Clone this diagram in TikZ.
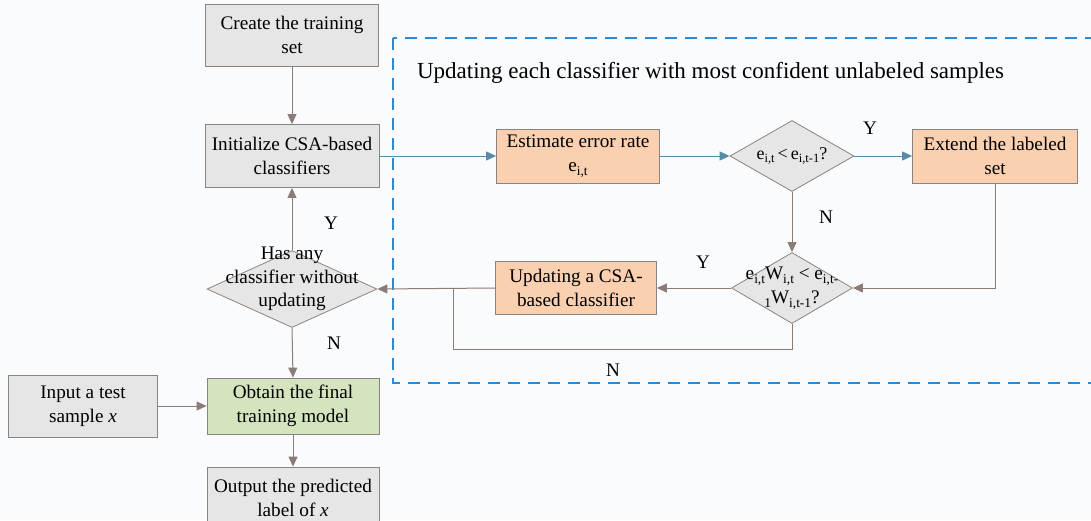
\documentclass[tikz,border=0pt]{standalone}
\usepackage{fontspec}
\setmainfont{Liberation Serif}
\usepackage{xcolor}
\usepackage{graphicx}
\usetikzlibrary{arrows.meta, positioning, shapes.geometric}

\definecolor{boxgray}{HTML}{E6E6E6}
\definecolor{boxorange}{HTML}{FAD0B0}
\definecolor{boxgreen}{HTML}{D3E4BE}
\definecolor{edgegray}{HTML}{8A8480}
\definecolor{linebrown}{HTML}{8C7C78}
\definecolor{lineblue}{HTML}{5A8AAA}
\definecolor{dashblue}{HTML}{2B8AD6}
\definecolor{bgwhite}{HTML}{FAFBFD}

% lowered index, as in e_{i,t}
\newcommand{\lowidx}[1]{\raisebox{-0.45ex}{\scalebox{0.7}{#1}}}

\begin{document}
\begin{tikzpicture}[x=0.5pt, y=-0.5pt,
  every node/.style={font=\fontsize{9.6}{11.8}\selectfont},
  graybox/.style={draw=edgegray, fill=boxgray, align=center, inner sep=1pt},
  orangebox/.style={draw=edgegray, fill=boxorange, align=center, inner sep=1pt},
  greenbox/.style={draw=edgegray, fill=boxgreen, align=center, inner sep=1pt},
  decision/.style={shape=diamond, draw=edgegray, fill=boxgray, inner sep=0pt},
  link/.style={draw=linebrown, line width=0.5pt, -{Triangle[length=5pt, width=4.5pt]}},
  bluelink/.style={link, draw=lineblue},
  plain/.style={draw=linebrown, line width=0.5pt},
  yesno/.style={font=\fontsize{9.6}{11}\selectfont}
]

% page frame
\useasboundingbox (0,0) rectangle (1091,520);
\fill[bgwhite] (0,0) rectangle (1091,520);

% dashed group around the update loop
\draw[dashblue, line width=0.7pt, dash pattern=on 6pt off 4pt] (393,38) rectangle (1110,383);
\node[anchor=west, font=\fontsize{11.5}{13}\selectfont] (title) at (410,73) {Updating each classifier with most confident unlabeled samples};

% left column
\node[graybox, minimum width=86.5pt, minimum height=31pt] (create) at (292,35) {Create the training\\set};
\node[graybox, minimum width=87pt, minimum height=31.5pt] (init) at (292,156) {Initialize CSA-based\\classifiers};
\node[decision, minimum width=85pt, minimum height=38.5pt] (hasany) at (292,289) {};
\node[align=center] (hasanytext) at ([yshift=5pt]hasany.center) {Has any\\classifier without\\updating};
\node[greenbox, minimum width=86pt, minimum height=28pt] (obtain) at (293,406) {Obtain the final\\training model};
\node[graybox, minimum width=74.5pt, minimum height=31pt] (input) at (83,406) {Input a test\\sample \textit{x}};
\node[graybox, minimum width=86pt, minimum height=31pt] (output) at (293,498) {Output the predicted\\label of \textit{x}};

% update loop
\node[orangebox, minimum width=81.5pt, minimum height=27pt] (estimate) at (578,156) {Estimate error rate\\e\lowidx{i,t}};
\node[decision, minimum width=62pt, minimum height=35.5pt] (dless) at (792,156) {};
\node[align=center, font=\fontsize{9}{11}\selectfont] (dlesstext) at (dless) {e\lowidx{i,t}\,<\,e\lowidx{i,t-1}?};
\node[orangebox, minimum width=82.5pt, minimum height=27pt] (extend) at (995,156) {Extend the labeled\\set};
\node[decision, minimum width=60.5pt, minimum height=35.5pt] (dweight) at (792,288) {};
\node[align=center] (dweighttext) at (dweight) {e\lowidx{i,t}W\lowidx{i,t} < e\lowidx{i,t-}\\\lowidx{1}W\lowidx{i,t-1}?};
\node[orangebox, minimum width=80.5pt, minimum height=26.5pt] (update) at (576,288) {Updating a CSA-\\based classifier};

\coordinate (njoin) at (453,288);
\coordinate (nloop) at (453,349);

% arrows
\draw[link] (create.south) -- (init.north);
\draw[bluelink] (init.east) -- (estimate.west);
\draw[bluelink] (estimate.east) -- (dless.west);
\draw[bluelink] (dless.east) -- (extend.west);
\draw[link] (dless.south) -- (dweight.north);
\draw[link] (extend.south) |- (dweight.east);
\draw[link] (dweight.west) -- (update.east);
\draw[link] (update.west) -- (hasany.east);
\draw[plain] (dweight.south) |- (nloop) -- (njoin);
\draw[link] (hasany.north) -- (init.south);
\draw[link] (hasany.south) -- (obtain.north);
\draw[link] (input.east) -- (obtain.west);
\draw[link] (obtain.south) -- (output.north);

% Y / N labels
\node[yesno] (y1) at (870,128) {Y};
\node[yesno] (n1) at (826,217) {N};
\node[yesno] (y2) at (703,262) {Y};
\node[yesno] (n2) at (613,370) {N};
\node[yesno] (y3) at (331,223) {Y};
\node[yesno] (n3) at (334,343) {N};

\end{tikzpicture}
\end{document}
